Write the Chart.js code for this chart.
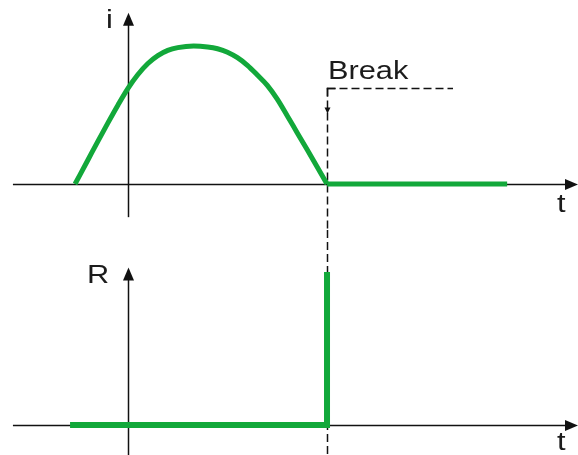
<!DOCTYPE html>
<html>
<head>
<meta charset="utf-8">
<script src="https://cdn.jsdelivr.net/npm/chart.js@4/dist/chart.umd.min.js"></script>
<style>
  html, body { margin: 0; padding: 0; background: #fff; }
  #wrap { position: relative; width: 578px; height: 455px; overflow: hidden; }
  canvas { position: absolute; left: 0; }
  #top { top: 0; }
  #bottom { top: 230px; }
</style>
</head>
<body>
<div id="wrap">
  <canvas id="top" width="578" height="230"></canvas>
  <canvas id="bottom" width="578" height="225"></canvas>
</div>
<script>
// current i(t): arc until the break, then zero
const tArc = [-2.66, -2.0, -1.5, -1.0, -0.5, 0, 0.5, 1.0, 1.5, 2.0, 2.5, 3.3, 4.0, 4.5, 5.0, 5.5, 6.0, 6.5, 7.0, 7.5, 8.0, 8.5, 9.0, 9.5, 10];
const iArc = [0, 0.178, 0.313, 0.445, 0.573, 0.693, 0.793, 0.873, 0.93, 0.968, 0.988, 1.0, 0.993, 0.98, 0.955, 0.915, 0.86, 0.79, 0.715, 0.615, 0.495, 0.372, 0.25, 0.125, 0];
const tFlat = [10, 19.05];
const iFlat = [0, 0];
// resistance R(t): zero, then jumps at the break
const tR = [-2.91, 10, 10];
const rVals = [0, 0, 1];
const tBreak = 10;

const GREEN = '#12a83a';
const INK = '#111';

function arrowHead(ctx, x, y, dir, len, half) {
  ctx.beginPath();
  if (dir === 'right') {
    ctx.moveTo(x, y); ctx.lineTo(x - len, y - half); ctx.lineTo(x - len, y + half);
  } else if (dir === 'up') {
    ctx.moveTo(x, y); ctx.lineTo(x - half, y + len); ctx.lineTo(x + half, y + len);
  } else {
    ctx.moveTo(x, y); ctx.lineTo(x - half, y - len); ctx.lineTo(x + half, y - len);
  }
  ctx.closePath();
  ctx.fill();
}

function seg(ctx, x1, y1, x2, y2) {
  ctx.beginPath(); ctx.moveTo(x1, y1); ctx.lineTo(x2, y2); ctx.stroke();
}

function label(ctx, str, x, y) {
  ctx.save();
  ctx.translate(x, y);
  ctx.scale(1.23, 1);
  ctx.fillText(str, 0, 0);
  ctx.restore();
}

const sketchPlugin = {
  id: 'sketch',
  beforeDatasetsDraw(chart, args, opts) {
    const { ctx } = chart;
    const sx = chart.scales.x, sy = chart.scales.y;
    const px = v => sx.getPixelForValue(v), py = v => sy.getPixelForValue(v);
    ctx.save();
    ctx.strokeStyle = INK; ctx.fillStyle = INK; ctx.lineWidth = 1.5;
    const y0 = Math.round(py(0)) + 0.5, x0 = Math.round(px(0)) + 0.5;
    // t axis
    seg(ctx, px(opts.tFrom), y0, px(sx.max) - 8, y0);
    arrowHead(ctx, px(sx.max), y0, 'right', 13, 5.5);
    // value axis
    seg(ctx, x0, py(opts.vFrom), x0, py(opts.vTip) + 8);
    arrowHead(ctx, x0, py(opts.vTip), 'up', 13, 5.5);
    // break marker
    const xb = Math.round(px(tBreak)) + 0.5;
    ctx.setLineDash([8, 4]);
    if (opts.breakTop !== undefined) {
      const yt = Math.round(py(opts.breakTop)) + 0.5;
      seg(ctx, xb, yt, xb, chart.height);
      seg(ctx, xb, yt, px(opts.breakEnd), yt);
      ctx.setLineDash([]);
      seg(ctx, xb, yt - 0.75, xb, yt + 8);
      seg(ctx, xb - 0.75, yt, xb + 8, yt);
      arrowHead(ctx, xb, py(opts.breakArrow), 'down', 6, 3);
    } else {
      seg(ctx, xb, 0, xb, chart.height);
    }
    ctx.restore();
  },
  afterDraw(chart, args, opts) {
    const { ctx } = chart;
    ctx.save();
    ctx.fillStyle = '#1c1c1c';
    ctx.font = '25px "Liberation Sans", Arial, sans-serif';
    ctx.textBaseline = 'alphabetic';
    (opts.labels || []).forEach(l => label(ctx, l.text, l.x, l.y));
    ctx.restore();
  }
};

function baseOptions(yMin, yMax, sketch) {
  return {
    responsive: false,
    devicePixelRatio: 1,
    animation: false,
    layout: { padding: 0 },
    plugins: { legend: { display: false }, tooltip: { enabled: false }, sketch },
    scales: {
      x: { type: 'linear', display: false, min: -6.43, max: 22.61 },
      y: { type: 'linear', display: false, min: yMin, max: yMax },
    },
    elements: { point: { radius: 0 } },
  };
}

new Chart(document.getElementById('top'), {
  type: 'line',
  data: {
    datasets: [
      {
        data: tArc.map((t, k) => ({ x: t, y: iArc[k] })),
        borderColor: GREEN, borderWidth: 5, cubicInterpolationMode: 'monotone', fill: false,
        borderCapStyle: 'butt', clip: false,
      },
      {
        data: tFlat.map((t, k) => ({ x: t, y: iFlat[k] })),
        borderColor: GREEN, borderWidth: 5, tension: 0, fill: false,
        borderCapStyle: 'butt', clip: false,
      },
    ],
  },
  options: baseOptions(-0.333, 1.333, {
    tFrom: -5.78, vFrom: -0.24, vTip: 1.24,
    breakTop: 0.696, breakEnd: 16.33, breakArrow: 0.51,
    labels: [
      { text: 'i', x: 106, y: 28 },
      { text: 'Break', x: 328, y: 79 },
      { text: 't', x: 557, y: 212 },
    ],
  }),
  plugins: [sketchPlugin],
});

new Chart(document.getElementById('bottom'), {
  type: 'line',
  data: {
    datasets: [{
      data: tR.map((t, k) => ({ x: t, y: rVals[k] })),
      borderColor: GREEN, borderWidth: 6, tension: 0, fill: false,
      borderJoinStyle: 'miter', borderCapStyle: 'butt', clip: false,
    }],
  },
  options: baseOptions(-0.196, 1.275, {
    tFrom: -5.78, vFrom: -0.2, vTip: 1.03,
    labels: [
      { text: 'R', x: 87, y: 53 },
      { text: 't', x: 557, y: 220 },
    ],
  }),
  plugins: [sketchPlugin],
});
</script>
</body>
</html>
